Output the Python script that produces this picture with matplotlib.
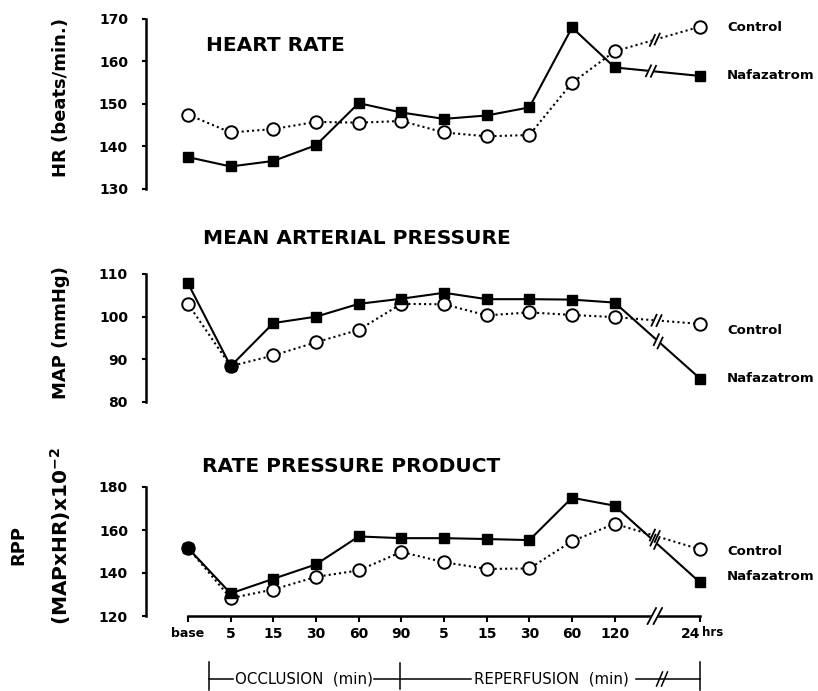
import matplotlib
matplotlib.use("Agg")
import matplotlib.pyplot as plt
import matplotlib.transforms as mtransforms
import numpy as np

plt.rcParams["font.family"] = "DejaVu Sans"

# sampling times (occlusion 5..90 min, reperfusion 5..120 min, then 24 hrs)
time_labels = ["base", "5", "15", "30", "60", "90", "5", "15", "30", "60", "120", "24"]

hr_control = [147.5, 143.3, 144.1, 145.8, 145.6, 146.0, 143.3, 142.4, 142.7, 155.0, 162.4, 168.2]
hr_nafaz = [137.5, 135.3, 136.6, 140.3, 150.2, 148.0, 146.5, 147.3, 149.2, 168.0, 158.6, 156.6]

map_control = [103.0, 88.4, 90.9, 94.0, 96.9, 103.0, 102.9, 100.3, 101.0, 100.4, 99.9, 98.3]
map_nafaz = [107.8, 88.4, 98.5, 100.0, 103.0, 104.2, 105.6, 104.1, 104.1, 104.0, 103.3, 85.5]

rpp_control = [151.6, 128.3, 132.3, 138.2, 141.2, 149.8, 145.0, 141.9, 142.1, 154.8, 162.9, 151.0]
rpp_nafaz = [151.6, 130.5, 137.3, 144.0, 157.0, 156.2, 156.2, 155.8, 155.3, 175.0, 171.3, 135.6]

W, H = 818, 691
fig = plt.figure(figsize=(W / 100, H / 100), dpi=100)

# 11 evenly spaced slots, one slot skipped for the axis break, then 24 hrs
xpos = np.r_[np.arange(11), 12]
X0, DX = 188, 42.67          # pixel of "base" and pixels per slot
AX_L, AX_R = 146, 720
XLIM = ((AX_L - X0) / DX, (AX_R - X0) / DX)
XBREAK = 10.94


def add_panel(top_px, bottom_px, ylim, yticks):
    ax = fig.add_axes([AX_L / W, 1 - bottom_px / H, (AX_R - AX_L) / W, (bottom_px - top_px) / H])
    ax.set_xlim(*XLIM)
    ax.set_ylim(*ylim)
    ax.set_autoscale_on(False)
    ax.patch.set_visible(False)
    for s in ["top", "right"]:
        ax.spines[s].set_visible(False)
    ax.spines["left"].set_linewidth(1.8)
    ax.set_yticks(yticks)
    ax.tick_params(axis="y", direction="out", length=3, width=1.5, pad=10, labelsize=10)
    for t in ax.get_yticklabels():
        t.set_fontweight("bold")
    return ax


def plot_series(ax, ctrl, naf):
    ax.plot(xpos, ctrl, linestyle=(0, (1, 1.5)), lw=1.5, color="k", marker="o", ms=9,
            mfc="white", mec="k", mew=1.4, clip_on=False, zorder=3)
    ax.plot(xpos, naf, "-", lw=1.5, color="k", marker="s", ms=6.5, mfc="k", mec="k",
            clip_on=False, zorder=4)


def draw_break(ax, xa, ya, xb, yb, xbreak, half=6.0, gap=2.5, angle=65):
    # "//" across the segment (xa,ya)-(xb,yb), worked out in pixels
    p0 = ax.transData.transform((xa, ya))
    p1 = ax.transData.transform((xb, yb))
    c = p0 + (xbreak - xa) / (xb - xa) * (p1 - p0)
    u = (p1 - p0) / np.hypot(*(p1 - p0))
    m = half * np.array([np.cos(np.radians(angle)), np.sin(np.radians(angle))])
    ident = mtransforms.IdentityTransform()
    a, b = c - gap * u, c + gap * u
    poly = np.array([a - m, a + m, b + m, b - m])
    ax.fill(poly[:, 0], poly[:, 1], color="white", transform=ident, clip_on=False, zorder=5)
    for q in (a, b):
        ax.plot([q[0] - m[0], q[0] + m[0]], [q[1] - m[1], q[1] + m[1]], color="k", lw=1.3,
                transform=ident, clip_on=False, zorder=6)


def break_lines(ax, ctrl, naf, xb_ctrl=XBREAK, xb_naf=XBREAK):
    draw_break(ax, xpos[-2], ctrl[-2], xpos[-1], ctrl[-1], xb_ctrl)
    draw_break(ax, xpos[-2], naf[-2], xpos[-1], naf[-1], xb_naf)


def legend_labels(ax, y_ctrl, y_naf):
    ax.text(12.63, y_ctrl, "Control", va="center", ha="left", fontsize=9.5, fontweight="bold")
    ax.text(12.63, y_naf, "Nafazatrom", va="center", ha="left", fontsize=9.5, fontweight="bold")


# heart rate
ax1 = add_panel(19, 189, (130, 170), [130, 140, 150, 160, 170])
ax1.spines["bottom"].set_visible(False)
ax1.set_xticks([])
plot_series(ax1, hr_control, hr_nafaz)
break_lines(ax1, hr_control, hr_nafaz, 10.94, 10.85)
legend_labels(ax1, 168.0, 156.8)

# mean arterial pressure
ax2 = add_panel(274, 402, (80, 110), [80, 90, 100, 110])
ax2.spines["bottom"].set_visible(False)
ax2.set_xticks([])
plot_series(ax2, map_control, map_nafaz)
break_lines(ax2, map_control, map_nafaz, 10.98, 11.02)
legend_labels(ax2, 96.8, 85.6)

# rate pressure product
ax3 = add_panel(487, 616, (120, 180), [120, 140, 160, 180])
ax3.spines["bottom"].set_linewidth(1.8)
ax3.spines["bottom"].set_bounds(0, 12)
ax3.set_xticks(xpos)
ax3.set_xticklabels(time_labels)
ax3.tick_params(axis="x", direction="out", length=4, width=1.5, pad=4, labelsize=10)
for t in ax3.get_xticklabels():
    t.set_fontweight("bold")
ax3.get_xticklabels()[0].set_fontsize(9)
shift = mtransforms.ScaledTranslation(-7 / 72, 0, fig.dpi_scale_trans)
ax3.get_xticklabels()[-1].set_transform(ax3.get_xticklabels()[-1].get_transform() + shift)
plot_series(ax3, rpp_control, rpp_nafaz)
break_lines(ax3, rpp_control, rpp_nafaz)
draw_break(ax3, 0, 120, 12, 120, XBREAK, half=9, gap=3, angle=62)
legend_labels(ax3, 149.8, 138.5)

# overlay in pixel units for titles, axis labels and the bracket
ov = fig.add_axes([0, 0, 1, 1])
ov.set_xlim(0, W)
ov.set_ylim(H, 0)
ov.axis("off")

ov.text(206, 45, "HEART RATE", fontsize=14.5, fontweight="bold", va="center", ha="left")
ov.text(203, 238, "MEAN ARTERIAL PRESSURE", fontsize=14.5, fontweight="bold", va="center", ha="left")
ov.text(202, 466, "RATE PRESSURE PRODUCT", fontsize=14.5, fontweight="bold", va="center", ha="left")

ov.text(61, 97, "HR (beats/min.)", rotation=90, fontsize=13, fontweight="bold", va="center", ha="center")
ov.text(61, 333, "MAP (mmHg)", rotation=90, fontsize=13, fontweight="bold", va="center", ha="center")
ov.text(18, 545, "RPP", rotation=90, fontsize=13, fontweight="bold", va="center", ha="center")
ov.text(61, 536, r"(MAPxHR)x10$^{\mathbf{-2}}$", rotation=90, fontsize=14.5, fontweight="bold",
        va="center", ha="center")
ov.text(702, 633, "hrs", fontsize=8.5, fontweight="bold", va="center", ha="left")

blk = dict(color="k", lw=1.1)
ov.plot([209, 209], [662, 690], **blk)
ov.plot([400, 400], [663, 689], **blk)
ov.plot([700, 700], [662, 690], **blk)
ov.plot([209, 233], [679, 679], **blk)
ov.plot([374, 471], [679, 679], **blk)
ov.plot([636, 700], [679, 679], **blk)
for dx in (-2.5, 2.5):
    ov.plot([662 + dx - 3, 662 + dx + 3], [686, 672], **blk)
ov.text(235, 679, "OCCLUSION  (min)", fontsize=10.8, va="center", ha="left")
ov.text(474, 679, "REPERFUSION  (min)", fontsize=10.8, va="center", ha="left")

fig.savefig("out.png", dpi=100)
